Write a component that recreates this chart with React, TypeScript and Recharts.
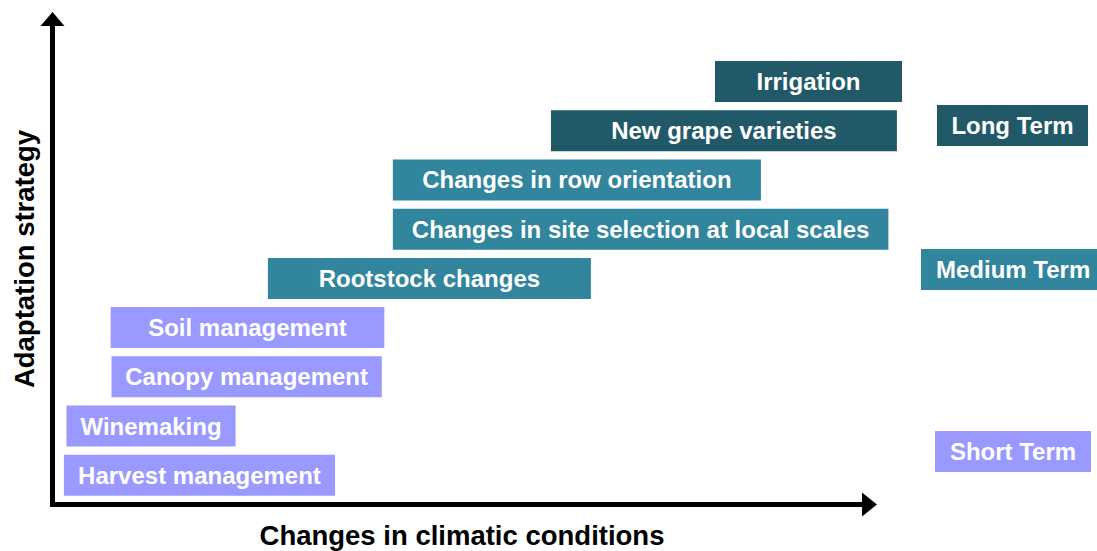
import { BarChart, Bar, XAxis, YAxis, Cell, LabelList } from "recharts";

// Adaptation strategies, top to bottom
const strategies = [
  "Irrigation",
  "New grape varieties",
  "Changes in row orientation",
  "Changes in site selection at local scales",
  "Rootstock changes",
  "Soil management",
  "Canopy management",
  "Winemaking",
  "Harvest management",
];

// Range on the "changes in climatic conditions" axis (0-100)
const rangeStart = [78.0, 58.7, 40.1, 40.1, 25.4, 6.9, 7.0, 1.7, 1.4];
const rangeEnd = [100.0, 99.4, 83.4, 98.4, 63.4, 39.1, 38.8, 21.6, 33.3];

const strategyTerm = ["long", "long", "medium", "medium", "medium", "short", "short", "short", "short"];

const termKeys = ["long", "medium", "short"];
const termLabels = ["Long Term", "Medium Term", "Short Term"];
const termColors: Record<string, string> = {
  long: "#215968",
  medium: "#31859c",
  short: "#9999ff",
};

const data = strategies.map((name, i) => ({
  name,
  range: [rangeStart[i], rangeEnd[i]],
  term: strategyTerm[i],
}));

const FONT = '"Liberation Sans", Arial, sans-serif';

// legend box placement, beside each group
const legendBoxes: Record<string, { left: number; top: number; width: number }> = {
  long: { left: 937, top: 105, width: 151 },
  medium: { left: 921, top: 249, width: 184 },
  short: { left: 935, top: 431, width: 156 },
};

function TermLegend() {
  return (
    <>
      {termKeys.map((key, i) => {
        const box = legendBoxes[key];
        return (
          <div
            key={key}
            style={{
              position: "absolute",
              left: box.left,
              top: box.top,
              width: box.width,
              height: 41,
              background: termColors[key],
              color: "#ffffff",
              fontFamily: FONT,
              fontWeight: "bold",
              fontSize: 24,
              lineHeight: "41px",
              textAlign: key === "medium" ? "left" : "center",
              paddingLeft: key === "medium" ? 15 : 0,
              boxSizing: "border-box",
              whiteSpace: "nowrap",
            }}
          >
            {termLabels[i]}
          </div>
        );
      })}
    </>
  );
}

function AxisArrows() {
  return (
    <svg
      width={1097}
      height={551}
      style={{ position: "absolute", left: 0, top: 0, pointerEvents: "none" }}
    >
      <line x1={52.5} y1={506.5} x2={52.5} y2={25} stroke="#000" strokeWidth={5} />
      <polygon points="40.5,26 64.5,26 52.5,12" fill="#000" />
      <line x1={50} y1={504.5} x2={863} y2={504.5} stroke="#000" strokeWidth={5} />
      <polygon points="862,492.5 862,516.5 877,504.5" fill="#000" />
      <text
        x={462}
        y={545}
        textAnchor="middle"
        fontFamily={FONT}
        fontWeight="bold"
        fontSize={27.5}
        fill="#000"
      >
        Changes in climatic conditions
      </text>
      <text
        x={34}
        y={259}
        transform="rotate(-90, 34, 259)"
        textAnchor="middle"
        fontFamily={FONT}
        fontWeight="bold"
        fontSize={27.5}
        fill="#000"
      >
        Adaptation strategy
      </text>
    </svg>
  );
}

export default function App() {
  return (
    <div
      style={{
        position: "absolute",
        left: 0,
        top: 0,
        width: 1097,
        height: 551,
        overflow: "hidden",
        background: "#ffffff",
      }}
    >
      <BarChart
        width={1097}
        height={551}
        data={data}
        layout="vertical"
        margin={{ top: 57, right: 195, bottom: 51, left: 52 }}
      >
        <XAxis type="number" domain={[0, 100]} hide />
        <YAxis type="category" dataKey="name" hide />
        <Bar dataKey="range" barSize={41} isAnimationActive={false}>
          {data.map((d, i) => (
            <Cell key={`cell-${i}`} fill={termColors[d.term]} />
          ))}
          <LabelList
            dataKey="name"
            position="center"
            fill="#ffffff"
            fontFamily={FONT}
            fontWeight="bold"
            fontSize={24}
          />
        </Bar>
      </BarChart>
      <AxisArrows />
      <TermLegend />
    </div>
  );
}
